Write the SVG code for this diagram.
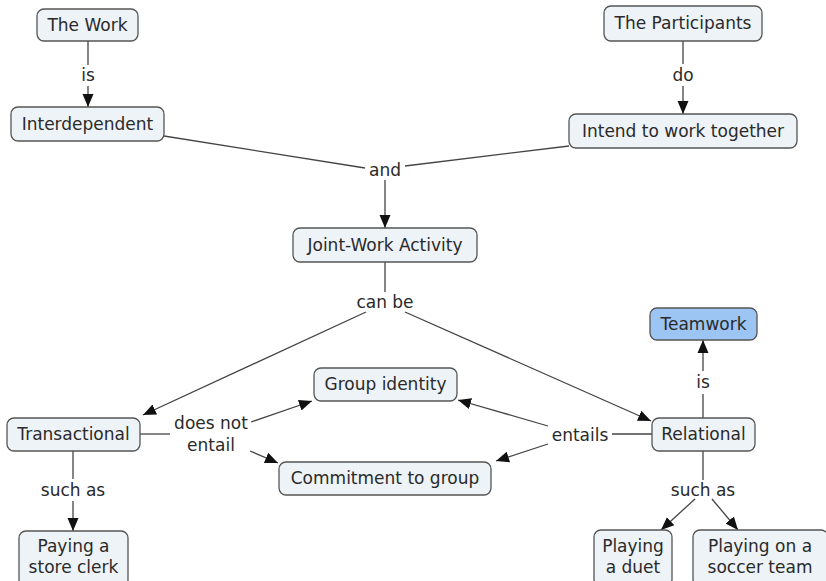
<svg xmlns="http://www.w3.org/2000/svg" width="826" height="581" viewBox="0 0 826 581">
  <style>
    .node rect { fill: #edf3f7; stroke: #555; stroke-width: 1.3; }
    .node.hi rect { fill: #9cc5f4; }
    text { font-family: "DejaVu Sans", Verdana, sans-serif; font-size: 17px; fill: #2a2a2a; text-anchor: middle; dominant-baseline: central; }
    .links line, .links path { stroke: #444; stroke-width: 1.3; fill: none; }
    .arr { marker-end: url(#tip); }
  </style>
  <defs>
    <marker id="tip" markerUnits="userSpaceOnUse" markerWidth="14" markerHeight="14" viewBox="0 0 14 14" refX="13" refY="7" orient="auto">
      <path d="M0,1.5 L13,7 L0,12.5 Z" fill="#111"/>
    </marker>
  </defs>
  <rect width="826" height="581" fill="#fff"/>

  <!-- connectors and linking phrases -->
  <g class="links">
    <line x1="88" y1="41" x2="88" y2="65"/>
    <line class="arr" x1="88" y1="86" x2="88" y2="107"/>
    <text x="88" y="75">is</text>

    <line x1="683" y1="41" x2="683" y2="64"/>
    <line class="arr" x1="683" y1="86" x2="683" y2="114"/>
    <text x="683" y="75">do</text>

    <line x1="164" y1="136" x2="365" y2="168"/>
    <line x1="569" y1="146" x2="405" y2="166"/>
    <line class="arr" x1="385" y1="180" x2="385" y2="228"/>
    <text x="385" y="170">and</text>

    <line x1="385" y1="262" x2="385" y2="292"/>
    <text x="385" y="302">can be</text>
    <line class="arr" x1="366" y1="312" x2="143" y2="415"/>
    <line class="arr" x1="405" y1="312" x2="651" y2="421"/>

    <line x1="140" y1="434" x2="170" y2="434"/>
    <text x="211" y="423">does not</text>
    <text x="211" y="445">entail</text>
    <line class="arr" x1="251" y1="422" x2="312" y2="401"/>
    <line class="arr" x1="250" y1="451" x2="278" y2="463"/>

    <line x1="652" y1="434" x2="612" y2="434"/>
    <text x="580" y="435">entails</text>
    <line class="arr" x1="548" y1="426" x2="458" y2="400"/>
    <line class="arr" x1="548" y1="444" x2="496" y2="461"/>

    <line x1="703" y1="418" x2="703" y2="394"/>
    <line class="arr" x1="703" y1="371" x2="703" y2="340"/>
    <text x="703" y="382">is</text>

    <line x1="73" y1="451" x2="73" y2="479"/>
    <line class="arr" x1="73" y1="501" x2="73" y2="531"/>
    <text x="73" y="490">such as</text>

    <line x1="703" y1="451" x2="703" y2="480"/>
    <text x="703" y="490">such as</text>
    <line class="arr" x1="695" y1="499" x2="661" y2="530"/>
    <line class="arr" x1="712" y1="499" x2="738" y2="530"/>
  </g>

  <!-- concepts -->
  <g id="the-work" class="node"><rect x="37" y="9" width="101" height="32" rx="7"/><text x="87.5" y="25">The Work</text></g>
  <g id="interdependent" class="node"><rect x="11" y="107" width="153" height="34" rx="7"/><text x="87.5" y="124">Interdependent</text></g>
  <g id="the-participants" class="node"><rect x="604" y="6" width="158" height="35" rx="7"/><text x="683" y="23">The Participants</text></g>
  <g id="intend" class="node"><rect x="569" y="114" width="228" height="34" rx="7"/><text x="683" y="131">Intend to work together</text></g>
  <g id="joint-work" class="node"><rect x="293" y="228" width="184" height="34" rx="7"/><text x="385" y="245">Joint-Work Activity</text></g>
  <g id="teamwork" class="node hi"><rect x="650" y="308" width="107" height="32" rx="7"/><text x="703.5" y="324">Teamwork</text></g>
  <g id="group-identity" class="node"><rect x="314" y="368" width="143" height="33" rx="7"/><text x="385.5" y="384">Group identity</text></g>
  <g id="transactional" class="node"><rect x="7" y="418" width="133" height="33" rx="7"/><text x="73.5" y="434">Transactional</text></g>
  <g id="relational" class="node"><rect x="652" y="418" width="103" height="33" rx="7"/><text x="703.5" y="434">Relational</text></g>
  <g id="commitment" class="node"><rect x="279" y="462" width="212" height="33" rx="7"/><text x="385" y="478">Commitment to group</text></g>
  <g id="store-clerk" class="node"><rect x="19" y="531" width="109" height="56" rx="7"/><text x="73.5" y="546">Paying a</text><text x="73.5" y="567">store clerk</text></g>
  <g id="duet" class="node"><rect x="594" y="530" width="78" height="56" rx="7"/><text x="633" y="546">Playing</text><text x="633" y="567">a duet</text></g>
  <g id="soccer" class="node"><rect x="693" y="530" width="135" height="56" rx="7"/><text x="760" y="546">Playing on a</text><text x="760" y="567">soccer team</text></g>
</svg>
